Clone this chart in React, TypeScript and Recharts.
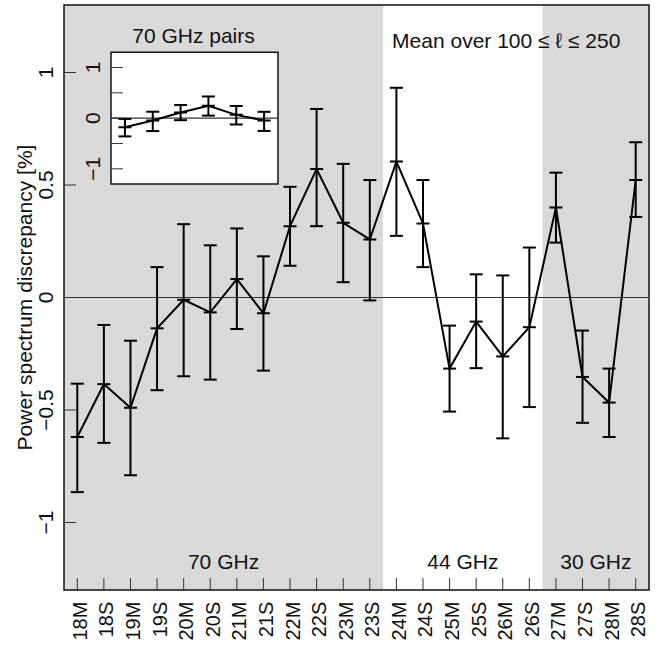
import React from 'react';
import {
  ComposedChart,
  Line,
  ErrorBar,
  XAxis,
  YAxis,
  ReferenceArea,
  ReferenceLine,
} from 'recharts';

const FONT = '"Liberation Sans", Arial, Helvetica, sans-serif';

// ---- main panel data ----
const categories = [
  '18M', '18S', '19M', '19S', '20M', '20S', '21M', '21S', '22M', '22S', '23M', '23S',
  '24M', '24S', '25M', '25S', '26M', '26S', '27M', '27S', '28M', '28S',
];
const means = [
  -0.62, -0.385, -0.49, -0.137, -0.01, -0.066, 0.082, -0.07, 0.317, 0.571, 0.332, 0.258,
  0.604, 0.329, -0.316, -0.107, -0.262, -0.132, 0.4, -0.353, -0.467, 0.522,
];
const lows = [
  -0.865, -0.646, -0.79, -0.412, -0.35, -0.365, -0.14, -0.325, 0.141, 0.317, 0.068, -0.013,
  0.274, 0.135, -0.507, -0.314, -0.626, -0.487, 0.244, -0.557, -0.62, 0.358,
];
const highs = [
  -0.383, -0.122, -0.192, 0.135, 0.326, 0.232, 0.307, 0.183, 0.492, 0.838, 0.594, 0.522,
  0.932, 0.522, -0.125, 0.103, 0.098, 0.222, 0.555, -0.147, -0.316, 0.69,
];
const yTicks = [-1, -0.5, 0, 0.5, 1];
const yDomain = [-1.3, 1.3];

// ---- inset data (70 GHz pairs) ----
const pairs = ['18', '19', '20', '21', '22', '23'];
const pairMeans = [-0.18, -0.047, 0.113, 0.245, 0.065, -0.047];
const pairLows = [-0.36, -0.255, -0.04, 0.05, -0.125, -0.252];
const pairHighs = [-0.015, 0.127, 0.26, 0.428, 0.24, 0.125];
const insetTicks = [-1, -0.5, 0, 0.5, 1];
const insetLabelled = [-1, 0, 1];

const mainData = categories.map((c, i) => ({
  cat: c,
  value: means[i],
  err: [means[i] - lows[i], highs[i] - means[i]],
}));

const insetData = pairs.map((p, i) => ({
  pair: p,
  value: pairMeans[i],
  err: [pairMeans[i] - pairLows[i], pairHighs[i] - pairMeans[i]],
}));

const fmt = (v: number) => (v < 0 ? '\u2212' + String(Math.abs(v)) : String(v));

const TICK = 12;
const CAP = 6.5;
const INK = '#111';

const BottomTick = (props: any) => {
  const { x, y, payload } = props;
  return (
    <g>
      <line x1={x} x2={x} y1={y} y2={y - TICK} stroke="#333" strokeWidth={1} />
      <text
        transform={`translate(${x},${y + 11.7}) rotate(-90)`}
        textAnchor="end"
        dy={9.5}
        fontSize={20}
        fontFamily={FONT}
        fill={INK}
      >
        {payload.value}
      </text>
    </g>
  );
};

const TopTick = (props: any) => {
  const { x, y } = props;
  return <line x1={x} x2={x} y1={y} y2={y + TICK} stroke="#333" strokeWidth={1} />;
};

const LeftTick = (props: any) => {
  const { x, y, payload } = props;
  return (
    <g>
      <line x1={x} x2={x + TICK} y1={y} y2={y} stroke="#333" strokeWidth={1} />
      <text
        transform={`translate(${x - 11},${y}) rotate(-90)`}
        textAnchor="middle"
        fontSize={21}
        fontFamily={FONT}
        fill={INK}
      >
        {fmt(payload.value)}
      </text>
    </g>
  );
};

const RightTick = (props: any) => {
  const { x, y } = props;
  return <line x1={x} x2={x - TICK} y1={y} y2={y} stroke="#333" strokeWidth={1} />;
};

const InsetLeftTick = (props: any) => {
  const { x, y, payload } = props;
  const show = insetLabelled.includes(payload.value);
  return (
    <g>
      <line x1={x} x2={x + TICK} y1={y} y2={y} stroke="#333" strokeWidth={1} />
      {show ? (
        <text
          transform={`translate(${x - 11.5},${y}) rotate(-90)`}
          textAnchor="middle"
          fontSize={21}
          fontFamily={FONT}
          fill={INK}
        >
          {fmt(payload.value)}
        </text>
      ) : null}
    </g>
  );
};

const renderDash = (p: any) => (
  <line
    key={`dash-${p.index}`}
    x1={p.cx - CAP}
    x2={p.cx + CAP}
    y1={p.cy}
    y2={p.cy}
    stroke="#000"
    strokeWidth={2}
  />
);

const regionLabel = (value: string) => ({
  value,
  position: 'insideBottom' as const,
  offset: 20.7,
  fontSize: 21,
  fontFamily: FONT,
  fill: INK,
});

export default function App() {
  return (
    <div style={{ position: 'absolute', left: 0, top: 0, width: 665, height: 646, background: '#fff' }}>
      <div style={{ position: 'absolute', left: 0, top: 0 }}>
        <ComposedChart
          width={665}
          height={646}
          data={mainData}
          margin={{ top: 5, right: 16, bottom: 0, left: 0 }}
        >
          <XAxis
            dataKey="cat"
            scale="band"
            height={56}
            interval={0}
            axisLine={false}
            tickLine={false}
            tickSize={0}
            tickMargin={0}
            tick={<BottomTick />}
          />
          <XAxis
            xAxisId="top"
            dataKey="cat"
            orientation="top"
            scale="band"
            height={0}
            interval={0}
            axisLine={false}
            tickLine={false}
            tickSize={0}
            tickMargin={0}
            tick={<TopTick />}
          />
          <YAxis
            type="number"
            domain={yDomain}
            ticks={yTicks}
            allowDataOverflow
            width={64}
            axisLine={false}
            tickLine={false}
            tickSize={0}
            tickMargin={0}
            tick={<LeftTick />}
            label={{
              value: 'Power spectrum discrepancy [%]',
              angle: -90,
              position: 'insideLeft',
              offset: 25,
              style: { textAnchor: 'middle' },
              fontSize: 21,
              fontFamily: FONT,
              fill: INK,
            }}
          />
          <YAxis
            yAxisId="r"
            orientation="right"
            type="number"
            domain={yDomain}
            ticks={yTicks}
            allowDataOverflow
            width={0}
            axisLine={false}
            tickLine={false}
            tickSize={0}
            tickMargin={0}
            tick={<RightTick />}
          />
          <ReferenceArea
            x1="18M"
            x2="23S"
            fill="#d9d9d9"
            fillOpacity={1}
            stroke="none"
            label={regionLabel('70 GHz')}
          />
          <ReferenceArea
            x1="24M"
            x2="26S"
            fill="#ffffff"
            fillOpacity={0}
            stroke="none"
            label={regionLabel('44 GHz')}
          />
          <ReferenceArea
            x1="27M"
            x2="28S"
            fill="#d9d9d9"
            fillOpacity={1}
            stroke="none"
            label={regionLabel('30 GHz')}
          />
          <ReferenceArea
            x1="24M"
            x2="28M"
            fill="none"
            fillOpacity={0}
            stroke="none"
            label={{
              value: 'Mean over 100 \u2264 \u2113 \u2264 250',
              position: 'insideTop',
              offset: 28,
              dx: 3.5,
              fontSize: 21,
              fontFamily: FONT,
              fill: INK,
            }}
          />
          <ReferenceLine y={0} stroke="#333" strokeWidth={1.2} />
          <Line
            dataKey="value"
            stroke="#000"
            strokeWidth={2}
            dot={renderDash}
            activeDot={false}
            isAnimationActive={false}
          >
            <ErrorBar dataKey="err" width={CAP} stroke="#000" strokeWidth={2} />
          </Line>
          <ReferenceArea
            x1="18M"
            x2="28S"
            y1={yDomain[0]}
            y2={yDomain[1]}
            fill="none"
            fillOpacity={0}
            stroke="#111"
            strokeWidth={1.5}
          />
        </ComposedChart>
      </div>

      <div style={{ position: 'absolute', left: 70, top: 10 }}>
        <ComposedChart
          width={215}
          height={180}
          data={insetData}
          margin={{ top: 0, right: 7, bottom: 6, left: 0 }}
        >
          <XAxis
            dataKey="pair"
            orientation="top"
            scale="band"
            height={42.3}
            interval={0}
            axisLine={false}
            tickLine={false}
            tick={false}
            label={{
              value: '70 GHz pairs',
              position: 'insideBottom',
              offset: 9.5,
              dx: -1,
              fontSize: 21,
              fontFamily: FONT,
              fill: INK,
            }}
          />
          <YAxis
            type="number"
            domain={yDomain}
            ticks={insetTicks}
            allowDataOverflow
            width={41}
            axisLine={false}
            tickLine={false}
            tickSize={0}
            tickMargin={0}
            tick={<InsetLeftTick />}
          />
          <YAxis
            yAxisId="r"
            orientation="right"
            type="number"
            domain={yDomain}
            ticks={insetTicks}
            allowDataOverflow
            width={0}
            axisLine={false}
            tickLine={false}
            tickSize={0}
            tickMargin={0}
            tick={<RightTick />}
          />
          <ReferenceArea
            x1="18"
            x2="23"
            y1={yDomain[0]}
            y2={yDomain[1]}
            fill="#ffffff"
            fillOpacity={1}
            stroke="#111"
            strokeWidth={1.5}
          />
          <ReferenceLine y={0} stroke="#333" strokeWidth={1.2} />
          <Line
            dataKey="value"
            stroke="#000"
            strokeWidth={2}
            dot={renderDash}
            activeDot={false}
            isAnimationActive={false}
          >
            <ErrorBar dataKey="err" width={CAP} stroke="#000" strokeWidth={2} />
          </Line>
        </ComposedChart>
      </div>
    </div>
  );
}
